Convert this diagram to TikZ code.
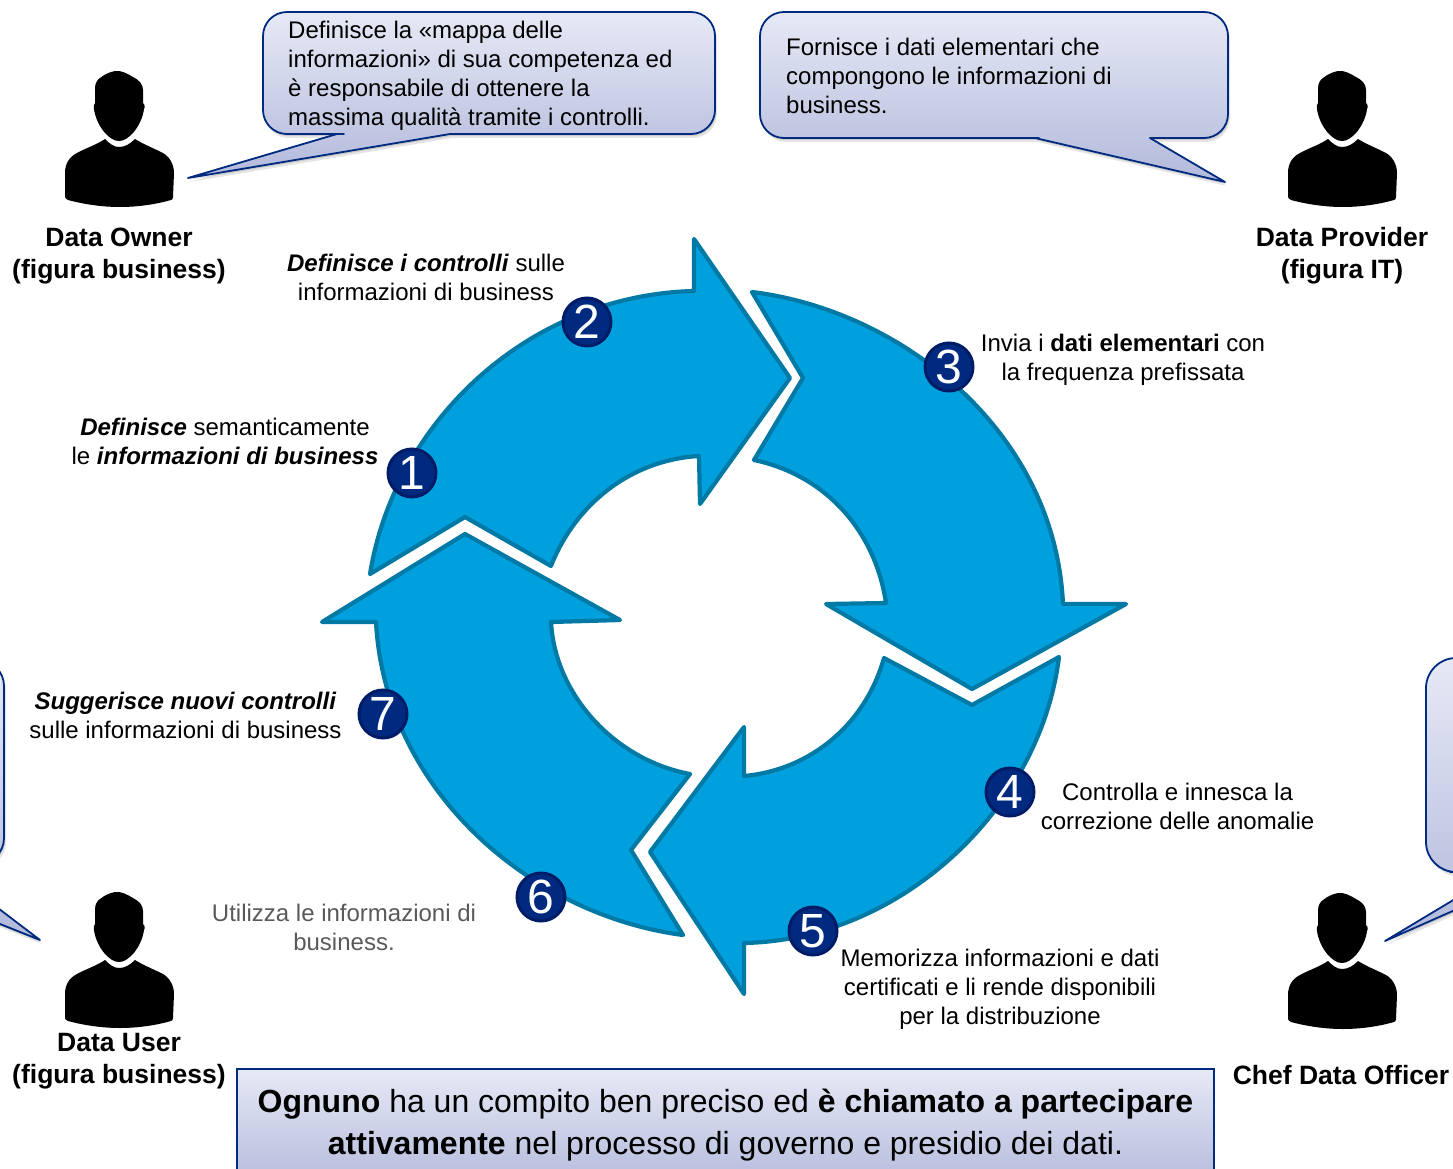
\documentclass[tikz,border=0pt]{standalone}
\usepackage{fontspec}
\setmainfont{Liberation Sans}
\definecolor{arrowfill}{HTML}{00A0DF}
\definecolor{arrowline}{HTML}{0079A5}
\definecolor{calloutline}{HTML}{002A7F}
\definecolor{badgefill}{HTML}{002A7F}
\definecolor{badgeline}{HTML}{001C66}
\definecolor{gradtop}{HTML}{E6E9F5}
\definecolor{gradbottom}{HTML}{B2B9DB}
\definecolor{greytext}{HTML}{595959}
\tikzset{
  cyclearrow/.style={fill=arrowfill,draw=arrowline,line width=4.2pt,line join=round},
  callout/.style={
    preaction={fill=black,fill opacity=.10,transform canvas={shift={(2pt,-4pt)}}},
    preaction={fill=black,fill opacity=.12,transform canvas={shift={(1pt,-2pt)}}},
    draw=calloutline,line width=1.8pt,line join=round,top color=gradtop,bottom color=gradbottom},
  badge/.style={circle,fill=badgefill,draw=badgeline,line width=3pt,minimum size=48pt,inner sep=0pt,text=white,font=\fontsize{48}{48}\selectfont},
  lbl/.style={align=center,inner sep=0pt,font=\fontsize{24}{29}\selectfont},
  calltext/.style={align=left,inner sep=0pt,anchor=west,font=\fontsize{24}{29}\selectfont},
  rolelbl/.style={align=center,inner sep=0pt,font=\fontsize{26.5}{32}\selectfont\bfseries},
  person/.pic={
    \fill[black] (-4,0) .. controls (2,-1) and (9,3) .. (14,6)
      .. controls (20,9) and (24,13) .. (24,19) -- (24,32)
      .. controls (26,33) and (26,37) .. (25,38)
      .. controls (24,46) and (20,55) .. (14,62)
      .. controls (9,67) and (5,70) .. (0,70)
      .. controls (-5,70) and (-9,67) .. (-14,62)
      .. controls (-20,55) and (-24,46) .. (-25,38)
      .. controls (-26,36) and (-25,33) .. (-24,32) -- (-24,17)
      .. controls (-24,12) and (-21,8) .. (-19,7)
      .. controls (-14,3) and (-9,1) .. (-4,0) -- cycle;
    \fill[black] (-14,68) .. controls (-9,73) and (-5,76) .. (0,76)
      .. controls (6,76) and (11,73) .. (16,68)
      .. controls (24,73) and (34,77) .. (44,82)
      .. controls (51,86) and (55,94) .. (55,102)
      -- (54,126) .. controls (54,128) and (53,129) .. (52,129)
      .. controls (38,133) and (20,136) .. (1,136)
      .. controls (-18,136) and (-36,133) .. (-51,129)
      .. controls (-53,128) and (-54,127) .. (-54,126)
      -- (-54,102) .. controls (-54,93) and (-50,86) .. (-42,82)
      .. controls (-33,77) and (-23,74) .. (-14,68) -- cycle;
  }
}
\begin{document}
\begin{tikzpicture}[x=1pt,y=-1pt]
\useasboundingbox (0,0) rectangle (1453,1169);
\clip (0,0) rectangle (1453,1169);

% cycle arrows
\draw[cyclearrow] (370,574) .. controls (395,420) and (530,295) .. (694,291)
  -- (694,239) -- (790,378) -- (700,504) -- (699,456)
  .. controls (630,460) and (575,505) .. (551,566) -- (465,517) -- cycle;
\draw[cyclearrow] (752,292) .. controls (900,310) and (1055,430) .. (1063,604)
  -- (1126,604) -- (972,689) -- (826,604) -- (886,603)
  .. controls (875,530) and (825,475) .. (754,460) -- (803,378) -- cycle;
\draw[cyclearrow] (1059,657) .. controls (1040,810) and (900,940) .. (744,943)
  -- (744,994) -- (650,852) -- (744,727) -- (744,776)
  .. controls (810,770) and (865,725) .. (884,658) -- (972,705) -- cycle;
\draw[cyclearrow] (683,935) .. controls (530,915) and (385,790) .. (376,622)
  -- (322,622) -- (465,534) -- (620,620) -- (551,622)
  .. controls (555,695) and (615,760) .. (690,774) -- (631,850) -- cycle;

% callouts
\draw[callout,rounded corners=24pt] (320,134) [sharp corners] -- (337,134) -- (188,178) -- (450,134) -- (470,134) [rounded corners=24pt] -- (715,134) -- (715,12) -- (263,12) -- (263,134) -- cycle;
\draw[callout,rounded corners=24pt] (1015,138) [sharp corners] -- (1035,138) -- (1225,182) -- (1150,138) -- (1170,138) [rounded corners=24pt] -- (1228,138) -- (1228,12) -- (760,12) -- (760,138) -- cycle;
\draw[callout,rounded corners=26pt] (-80,864) [sharp corners] -- (-60,864) -- (40,940) -- (-60,900) -- (-80,864) [rounded corners=26pt] -- (-300,864) -- (-300,660) -- (4,660) -- (4,864) -- cycle;
\draw[callout,rounded corners=30pt] (1480,872) [sharp corners] -- (1500,872) -- (1385,941) -- (1500,890) -- (1520,872) [rounded corners=30pt] -- (1750,872) -- (1750,658) -- (1426,658) -- (1426,872) -- cycle;
\draw[draw=calloutline,line width=1.8pt,top color=gradtop,bottom color=gradbottom] (237,1190) -- (237,1069) -- (1214,1069) -- (1214,1190);

% persons
\pic at (119,71) {person};
\pic at (1342,71) {person};
\pic at (119,892) {person};
\pic at (1342,893) {person};

% role labels
\node[rolelbl] (owner) at (119,256) {Data Owner\\(figura business)};
\node[rolelbl] (provider) at (1342,256) {Data Provider\\(figura IT)};
\node[rolelbl] (user) at (119,1061) {Data User\\(figura business)};
\node[rolelbl] (cdo) at (1341,1075) {Chef Data Officer};

% callout text
\node[calltext] (t1) at (288,76) {Definisce la «mappa delle\\informazioni» di sua competenza ed\\è responsabile di ottenere la\\massima qualità tramite i controlli.};
\node[calltext] (t2) at (786,76) {Fornisce i dati elementari che\\compongono le informazioni di\\business.};

% step labels
\node[lbl] (s1) at (225,441.5) {\textbf{\textit{Definisce}} semanticamente\\le \textbf{\textit{informazioni di business}}};
\node[lbl] (s2) at (426,277) {\textbf{\textit{Definisce i controlli}} sulle\\informazioni di business};
\node[lbl] (s3) at (1123,359.5) {Invia i \textbf{dati elementari} con\\la frequenza prefissata};
\node[lbl] (s4) at (1177.5,806.5) {Controlla e innesca la\\correzione delle anomalie};
\node[lbl] (s5) at (1000,989) {Memorizza informazioni e dati\\certificati e li rende disponibili\\per la distribuzione};
\node[lbl,text=greytext] (s6) at (344,927.5) {Utilizza le informazioni di\\business.};
\node[lbl] (s7) at (185.5,715.5) {\textbf{\textit{Suggerisce nuovi controlli}}\\sulle informazioni di business};

% badges
\node[badge] (n1) at (412,473) {1};
\node[badge] (n2) at (587,322) {2};
\node[badge] (n3) at (949,367) {3};
\node[badge] (n4) at (1010,792) {4};
\node[badge] (n5) at (813,931) {5};
\node[badge] (n6) at (541,897) {6};
\node[badge] (n7) at (383,714) {7};

% bottom message
\node[align=center,inner sep=0pt,font=\fontsize{32}{42}\selectfont] (msg) at (725.5,1125) {\textbf{Ognuno} ha un compito ben preciso ed \textbf{è chiamato a partecipare}\\\textbf{attivamente} nel processo di governo e presidio dei dati.};
\end{tikzpicture}
\end{document}
